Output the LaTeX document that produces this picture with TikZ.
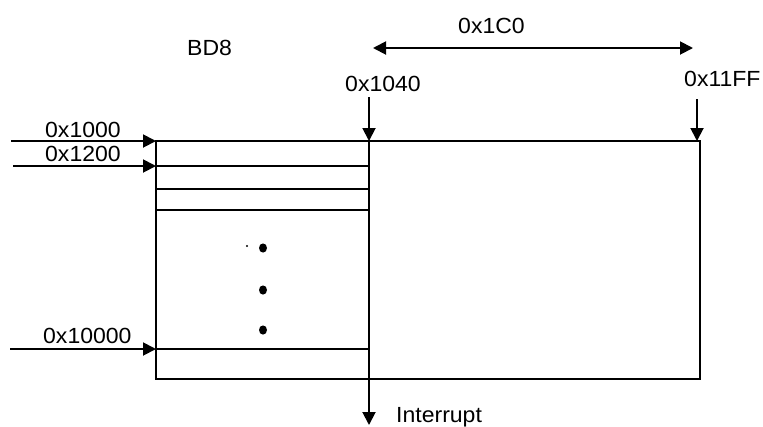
\documentclass[tikz,border=0pt]{standalone}
\usepackage{fontspec}
\setmainfont{Liberation Sans}
\usetikzlibrary{arrows.meta}
\newcommand\wtxt[1]{\scalebox{1.05}[1]{#1}}
\begin{document}
\begin{tikzpicture}[x=1bp,y=-1bp,
  ln/.style={line width=1.9bp},
  arr/.style={ln,-{Triangle[length=13bp,width=13bp]}},
  darr/.style={ln,{Triangle[length=13bp,width=13bp]}-{Triangle[length=13bp,width=13bp]}},
  lbl/.style={inner sep=0pt,anchor=base west,font=\fontsize{22}{26}\selectfont},
  dotc/.style={fill=black,draw=none}]
\useasboundingbox (0,0) rectangle (763,426);
% main box
\coordinate (TL) at (156,141);
\coordinate (BR) at (700,379);
\draw[ln] (TL) rectangle (BR);
% divider
\coordinate (vT) at (369,141);
\coordinate (vB) at (369,379);
\draw[ln] (vT) -- (vB);
% rows
\coordinate (r1L) at (156,166); \coordinate (r1R) at (369,166);
\coordinate (r2L) at (156,189); \coordinate (r2R) at (369,189);
\coordinate (r3L) at (156,210); \coordinate (r3R) at (369,210);
\coordinate (r4L) at (156,349); \coordinate (r4R) at (369,349);
\draw[ln] (r1L) -- (r1R);
\draw[ln] (r2L) -- (r2R);
\draw[ln] (r3L) -- (r3R);
\draw[ln] (r4L) -- (r4R);
% left arrows
\coordinate (a1) at (11,141);
\coordinate (a2) at (13,166);
\coordinate (a3) at (10,349);
\draw[arr] (a1) -- (TL);
\draw[arr] (a2) -- (r1L);
\draw[arr] (a3) -- (r4L);
% top arrows
\coordinate (t1) at (369,97);
\coordinate (t2) at (697,99);
\coordinate (t2e) at (697,141);
\draw[arr] (t1) -- (vT);
\draw[arr] (t2) -- (t2e);
\coordinate (dL) at (373,48);
\coordinate (dR) at (693,48);
\draw[darr] (dL) -- (dR);
% interrupt
\coordinate (iE) at (369,425);
\draw[arr] (vB) -- (iE);
% dots
\fill[dotc] (263,248) ellipse (4bp and 4.6bp);
\fill[dotc] (263,290) ellipse (4bp and 4.6bp);
\fill[dotc] (263,330) ellipse (4bp and 4.6bp);
\fill[dotc] (247,246) circle (1.1bp);
% labels
\node[lbl] (lC0) at (458,33) {\wtxt{0x1C0}};
\node[lbl] (lBD) at (187,55) {\wtxt{BD8}};
\node[lbl] (l1040) at (345,91) {\wtxt{0x1040}};
\node[lbl] (l11FF) at (684,86) {\wtxt{0x11FF}};
\node[lbl] (l1000) at (45,137) {\wtxt{0x1000}};
\node[lbl] (l1200) at (45,161) {\wtxt{0x1200}};
\node[lbl] (l10000) at (43,343) {\wtxt{0x10000}};
\node[lbl] (lInt) at (396,422) {\wtxt{Interrupt}};
\end{tikzpicture}
\end{document}
